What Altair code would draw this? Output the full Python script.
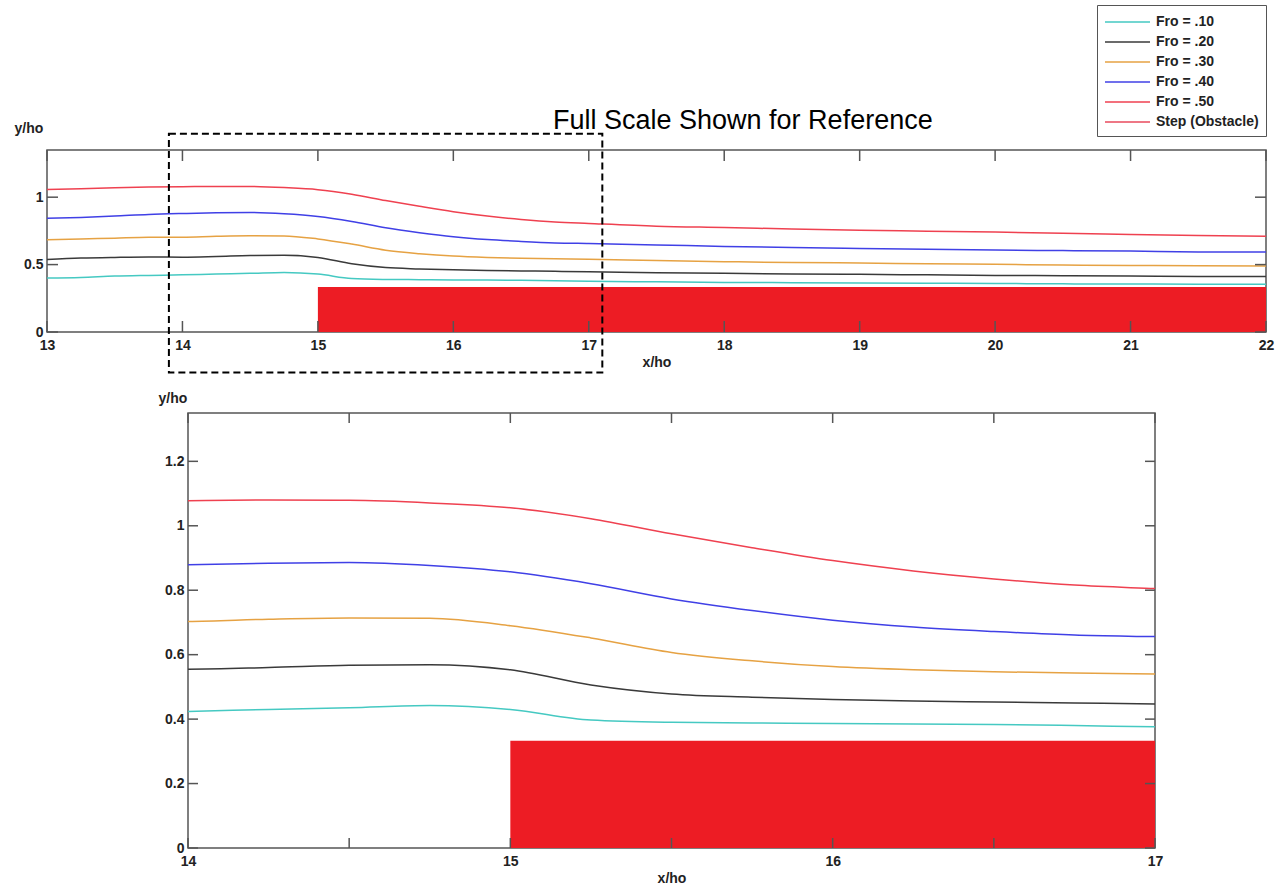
import altair as alt
import pandas as pd

# Normalised distance along the channel (x/ho)
x_pos = [13.0, 13.25, 13.5, 13.75, 14.0, 14.25, 14.5, 14.75, 15.0, 15.25, 15.5,
         15.75, 16.0, 16.25, 16.5, 16.75, 17.0, 17.5, 18.0, 18.5, 19.0, 19.5,
         20.0, 20.5, 21.0, 21.5, 22.0]

# Free-surface profiles (y/ho) for each upstream Froude number
fro_10 = [0.400, 0.405, 0.415, 0.420, 0.424, 0.430, 0.435, 0.442, 0.430, 0.397, 0.390,
          0.388, 0.386, 0.385, 0.383, 0.380, 0.376, 0.372, 0.368, 0.366, 0.364, 0.362,
          0.360, 0.357, 0.356, 0.355, 0.355]
fro_20 = [0.538, 0.548, 0.553, 0.556, 0.555, 0.560, 0.567, 0.569, 0.553, 0.506, 0.478,
          0.468, 0.461, 0.456, 0.453, 0.450, 0.447, 0.440, 0.435, 0.431, 0.428, 0.424,
          0.420, 0.418, 0.416, 0.412, 0.412]
fro_30 = [0.684, 0.690, 0.696, 0.702, 0.703, 0.710, 0.714, 0.713, 0.690, 0.652, 0.607,
          0.581, 0.563, 0.553, 0.547, 0.543, 0.540, 0.530, 0.522, 0.515, 0.512, 0.506,
          0.502, 0.497, 0.494, 0.491, 0.489]
fro_40 = [0.844, 0.850, 0.860, 0.872, 0.879, 0.884, 0.886, 0.877, 0.857, 0.820, 0.773,
          0.737, 0.707, 0.686, 0.672, 0.661, 0.656, 0.646, 0.635, 0.626, 0.620, 0.614,
          0.608, 0.604, 0.600, 0.594, 0.593]
fro_50 = [1.057, 1.062, 1.070, 1.075, 1.078, 1.080, 1.079, 1.071, 1.056, 1.022, 0.975,
          0.932, 0.892, 0.860, 0.835, 0.816, 0.805, 0.785, 0.775, 0.764, 0.754, 0.748,
          0.741, 0.733, 0.723, 0.715, 0.711]

series_names = ["Fro = .10", "Fro = .20", "Fro = .30", "Fro = .40", "Fro = .50"]
legend_names = series_names + ["Step (Obstacle)"]
legend_colors = ["#45c9c2", "#3a3a3a", "#e6a243", "#4040e6", "#ef4150", "#e84a5c"]

# Step obstacle
step_x = [15.0, 22.0]
step_height = 0.333
step_fill = "#ed1c24"

# Dashed box marking the enlarged region
zoom_box_x = [13.9, 17.1]
zoom_box_y = [-0.30, 1.47]

# Tick positions / labels
top_x_ticks = [13, 14, 15, 16, 17, 18, 19, 20, 21, 22]
top_y_ticks = [0, 0.5, 1]
bot_x_labels = [14, 15, 16, 17]
bot_x_ticks = [14, 14.5, 15, 15.5, 16, 16.5, 17]
bot_y_ticks = [0, 0.2, 0.4, 0.6, 0.8, 1, 1.2]

heading = "Full Scale Shown for Reference"

FONT = "Liberation Sans"
TXT = "#222222"

profiles = pd.DataFrame(
    [
        {"x": x, "y": y, "series": name}
        for name, ys in zip(series_names, [fro_10, fro_20, fro_30, fro_40, fro_50])
        for x, y in zip(x_pos, ys)
    ]
)
step_df = pd.DataFrame({"x": [step_x[0]], "x2": [step_x[1]], "y": [0.0], "y2": [step_height]})
box_df = pd.DataFrame({"x": [zoom_box_x[0]], "x2": [zoom_box_x[1]],
                       "y": [zoom_box_y[0]], "y2": [zoom_box_y[1]]})


def panel(xdom, width, height, x_labels, x_ticks, y_ticks, ytitle_x, ytitle_y,
          tick_len, legend, extras=()):
    xs = alt.Scale(domain=xdom, nice=False, zero=False)
    ys = alt.Scale(domain=[0, 1.35], nice=False, zero=False)
    ax_x = alt.Axis(values=x_labels, format="~g", ticks=False, domain=False, grid=False,
                    labelFont=FONT, labelFontSize=14, labelFontWeight="bold",
                    labelColor=TXT, labelPadding=6, labelFlush=False,
                    title="x/ho", titleFont=FONT, titleFontSize=14,
                    titleFontWeight="bold", titleColor=TXT, titlePadding=3)
    ax_y = alt.Axis(values=y_ticks, format="~g", ticks=False, domain=False, grid=False,
                    labelFont=FONT, labelFontSize=14, labelFontWeight="bold",
                    labelColor=TXT, labelPadding=4, labelFlush=False,
                    title="y/ho", titleFont=FONT, titleFontSize=14,
                    titleFontWeight="bold", titleColor=TXT, titleAngle=0,
                    titleAlign="left", titleBaseline="middle",
                    titleX=ytitle_x, titleY=ytitle_y)

    X = lambda: alt.X("x:Q", scale=xs, axis=ax_x)
    Y = lambda: alt.Y("y:Q", scale=ys, axis=ax_y)

    step = alt.Chart(step_df).mark_rect(color=step_fill, clip=True).encode(
        x=X(), x2="x2", y=Y(), y2="y2")

    color = alt.Color("series:N", scale=alt.Scale(domain=legend_names, range=legend_colors),
                      legend=legend)
    lines = alt.Chart(profiles).mark_line(strokeWidth=1.5, clip=True,
                                          interpolate="monotone").encode(
        x=X(), y=Y(), color=color, detail="series:N")

    tick_color = "#555555"
    xt = pd.DataFrame({"x": x_ticks})
    yt = pd.DataFrame({"y": y_ticks})
    t_bottom = alt.Chart(xt).mark_rule(color=tick_color, strokeWidth=1.5).encode(
        x=X(), y=alt.value(height), y2=alt.value(height - tick_len))
    t_top = alt.Chart(xt).mark_rule(color=tick_color, strokeWidth=1.5).encode(
        x=X(), y=alt.value(0), y2=alt.value(tick_len))
    t_left = alt.Chart(yt).mark_rule(color=tick_color, strokeWidth=1.5).encode(
        y=Y(), x=alt.value(0), x2=alt.value(tick_len))
    t_right = alt.Chart(yt).mark_rule(color=tick_color, strokeWidth=1.5).encode(
        y=Y(), x=alt.value(width), x2=alt.value(width - tick_len))

    layers = [step, lines, t_bottom, t_top, t_left, t_right]
    layers += [make(X, Y) for make in extras]
    return alt.layer(*layers).properties(width=width, height=height)


def dashed_box(X, Y):
    return alt.Chart(box_df).mark_rect(fill=None, stroke="black", strokeWidth=2,
                                       strokeDash=[7, 4]).encode(
        x=X(), x2="x2", y=Y(), y2="y2")


def heading_text(X, Y):
    return alt.Chart(pd.DataFrame({"t": [heading]})).mark_text(
        font=FONT, fontSize=27, fontWeight="normal", color="black",
        align="left", baseline="middle").encode(
        text="t:N", x=alt.value(506), y=alt.value(-29))


# Long horizontal line as the legend symbol (path in unit coordinates)
legend = alt.Legend(orient="none", legendX=1050, legendY=-145, title=None,
                    symbolType="M-1,0H4", symbolSize=324, symbolStrokeWidth=1.5,
                    labelFont=FONT, labelFontSize=14, labelFontWeight="bold",
                    labelColor=TXT, strokeColor="#555555", fillColor="white",
                    padding=7, rowPadding=3, labelOffset=32)

top = panel([13, 22], 1219, 182, top_x_ticks, top_x_ticks, top_y_ticks,
            -33, -22, 11, legend, extras=(dashed_box, heading_text))

bottom = panel([14, 17], 967, 435, bot_x_labels, bot_x_ticks, bot_y_ticks,
               -30, -15, 10, None)

spacer = alt.Chart(pd.DataFrame({"s": [0]})).mark_point(opacity=0).encode(
    x=alt.value(0), y=alt.value(0)).properties(
    width=90, height=435, view=alt.ViewBackground(stroke=None))

chart = alt.vconcat(top, alt.hconcat(spacer, bottom, spacing=20), spacing=15).resolve_scale(
    color="independent").configure_view(stroke="#555555", strokeWidth=1.5).properties(
    padding={"left": 13, "top": 3, "right": 0, "bottom": 0}, background="white")

chart.save("out.html", embed_options={"renderer": "svg", "actions": False})
